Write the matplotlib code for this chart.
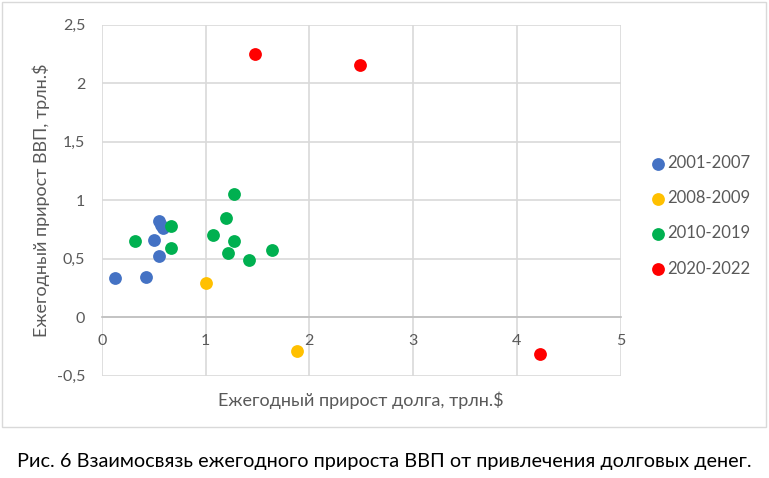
import matplotlib as mpl
mpl.use('Agg')
import matplotlib.pyplot as plt
from matplotlib.patches import Rectangle

plt.rcParams['font.family'] = ['Lato', 'DejaVu Sans']

# data (трлн.$)
debt_0107 = [0.13, 0.42, 0.55, 0.50, 0.55, 0.57, 0.59]
gdp_0107 = [0.33, 0.345, 0.52, 0.66, 0.82, 0.79, 0.765]
debt_0809 = [1.00, 1.88]
gdp_0809 = [0.29, -0.29]
debt_1019 = [0.32, 0.67, 0.67, 1.07, 1.20, 1.27, 1.27, 1.22, 1.42, 1.64]
gdp_1019 = [0.65, 0.78, 0.59, 0.70, 0.85, 1.05, 0.65, 0.55, 0.49, 0.57]
debt_2022 = [1.48, 2.49, 4.22]
gdp_2022 = [2.25, 2.15, -0.32]

series = [
    ('2001-2007', debt_0107, gdp_0107, '#4472C4'),
    ('2008-2009', debt_0809, gdp_0809, '#FFC000'),
    ('2010-2019', debt_1019, gdp_1019, '#00B050'),
    ('2020-2022', debt_2022, gdp_2022, '#FF0000'),
]
xticks = [0, 1, 2, 3, 4, 5]
yticks = [-0.5, 0, 0.5, 1, 1.5, 2, 2.5]

fig = plt.figure(figsize=(7.69, 4.78), dpi=100)
ax = fig.add_axes([0.1326, 0.2144, 0.6743, 0.7343])

# chart frame
fig.patches.append(Rectangle((2/769, 1-427/478), 764/769, 425/478,
                             transform=fig.transFigure, fill=False,
                             edgecolor='#d9d9d9', linewidth=1))

for name, xs, ys, col in series:
    ax.scatter(xs, ys, s=85, color=col, label=name, zorder=3, linewidths=0)

ax.set_xlim(0, 5)
ax.set_ylim(-0.5, 2.5)
ax.set_xticks(xticks)
ax.set_yticks(yticks)
ax.set_xticklabels([str(v) for v in xticks])
ax.set_yticklabels([('%g' % v).replace('.', ',') for v in yticks])
ax.grid(True, color='#d9d9d9', linewidth=1.2)
ax.set_axisbelow(True)
for s in ['top', 'right', 'left']:
    ax.spines[s].set_visible(False)
ax.spines['bottom'].set_position(('data', 0))
ax.spines['bottom'].set_color('#bfbfbf')
ax.spines['bottom'].set_linewidth(1.2)
ax.tick_params(axis='both', length=0, labelsize=11.5, colors='#595959')
ax.tick_params(axis='x', pad=12)
ax.tick_params(axis='y', pad=12)

ax.set_xlabel('Ежегодный прирост долга, трлн.$', fontsize=13, color='#595959')
ax.xaxis.set_label_coords(0.5, -0.045)
ax.set_ylabel('Ежегодный прирост ВВП, трлн.$', fontsize=13, color='#595959')
ax.yaxis.set_label_coords(-0.1, 0.5)

leg = ax.legend(loc='center left', bbox_to_anchor=(1.025, 0.455), frameon=False,
                fontsize=12, labelspacing=1.15, handletextpad=-0.1,
                handlelength=1.2, markerscale=1.0)
for t in leg.get_texts():
    t.set_color('#595959')

fig.text(0.5, 1-462/478, 'Рис. 6 Взаимосвязь ежегодного прироста ВВП от привлечения долговых денег.',
         ha='center', va='center', fontsize=14.3, color='black')

fig.savefig('out.png', dpi=100)
